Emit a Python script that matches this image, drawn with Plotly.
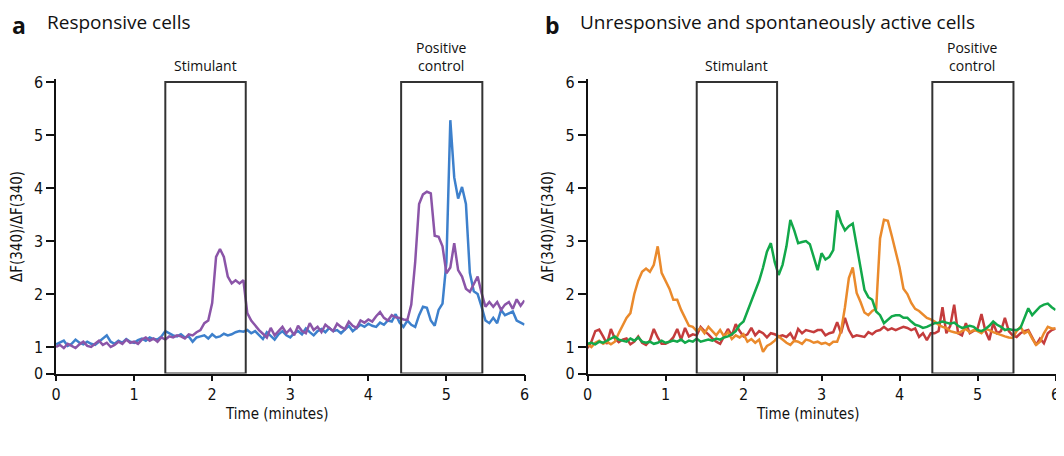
import plotly.graph_objects as go

# sampling grid: one frame every 0.05 min, 0 to 6 min
time = [round(i * 0.05, 2) for i in range(121)]

# panel a: responsive cells
resp_blue = [
    1.05, 1.08, 1.12, 1.02, 1.06, 1.14, 1.08, 1.05, 1.10, 1.06,
    1.04, 1.10, 1.16, 1.22, 1.10, 1.06, 1.12, 1.08, 1.15, 1.10,
    1.08, 1.13, 1.16, 1.12, 1.18, 1.15, 1.14, 1.20, 1.30, 1.26,
    1.22, 1.20, 1.24, 1.18, 1.20, 1.10, 1.18, 1.20, 1.22, 1.16,
    1.24, 1.18, 1.20, 1.25, 1.22, 1.24, 1.28, 1.30, 1.29, 1.32,
    1.26, 1.30, 1.22, 1.15, 1.28, 1.20, 1.14, 1.24, 1.30, 1.22,
    1.18, 1.26, 1.30, 1.24, 1.35, 1.28, 1.22, 1.30, 1.34, 1.28,
    1.36, 1.30, 1.32, 1.26, 1.34, 1.40, 1.30, 1.36, 1.42, 1.38,
    1.44, 1.40, 1.38, 1.46, 1.42, 1.50, 1.48, 1.62, 1.46, 1.38,
    1.50, 1.42, 1.38, 1.60, 1.76, 1.74, 1.50, 1.40, 1.70, 1.82,
    2.60, 5.28, 4.20, 3.80, 4.02, 3.70, 2.40, 2.05, 2.00, 1.76,
    1.50, 1.45, 1.55, 1.45, 1.70, 1.60, 1.64, 1.67, 1.50, 1.46,
    1.42,
]
resp_purple = [
    1.00, 1.04, 0.98, 1.06, 1.02, 0.98, 1.05, 1.10, 1.02, 1.00,
    1.06, 1.12, 1.04, 1.08, 1.00, 1.04, 1.10, 1.06, 1.14, 1.08,
    1.10, 1.06, 1.14, 1.18, 1.12, 1.16, 1.10, 1.18, 1.14, 1.20,
    1.18, 1.22, 1.20, 1.16, 1.24, 1.22, 1.28, 1.32, 1.45, 1.50,
    1.83, 2.70, 2.85, 2.70, 2.33, 2.20, 2.26, 2.20, 2.26, 1.64,
    1.50, 1.40, 1.32, 1.25, 1.18, 1.36, 1.22, 1.30, 1.38, 1.26,
    1.34, 1.22, 1.40, 1.30, 1.26, 1.45, 1.32, 1.38, 1.28, 1.42,
    1.36, 1.30, 1.44, 1.38, 1.34, 1.48, 1.40, 1.36, 1.50, 1.46,
    1.52, 1.48, 1.58, 1.66, 1.55, 1.50, 1.60, 1.56, 1.55, 1.52,
    1.51, 1.80, 2.60, 3.70, 3.88, 3.93, 3.90, 3.10, 3.08, 2.90,
    2.39, 2.50, 2.96, 2.45, 2.33, 2.10, 2.04, 2.20, 2.33, 2.02,
    1.76, 1.85, 1.76, 1.85, 1.70, 1.80, 1.85, 1.72, 1.90, 1.78,
    1.88,
]

# panel b: unresponsive and spontaneously active cells
spont_orange = [
    1.05, 1.00, 1.08, 1.12, 1.06, 1.10, 1.05, 1.10, 1.26, 1.40,
    1.55, 1.64, 2.00, 2.25, 2.42, 2.48, 2.42, 2.55, 2.90, 2.40,
    2.26, 2.10, 1.89, 1.89, 1.70, 1.55, 1.40, 1.38, 1.30, 1.36,
    1.26, 1.38, 1.30, 1.22, 1.32, 1.20, 1.28, 1.15, 1.22, 1.18,
    1.24, 1.10, 1.15, 1.08, 1.14, 0.91, 1.02, 1.06, 1.12, 1.20,
    1.14, 1.08, 1.04, 1.12, 1.10, 1.06, 1.14, 1.12, 1.08, 1.10,
    1.06, 1.08, 1.04, 1.10, 1.10, 1.30, 1.75, 2.30, 2.50, 2.02,
    1.85, 1.65, 1.60, 1.68, 1.72, 3.05, 3.40, 3.38, 3.10, 2.80,
    2.50, 2.10, 2.00, 1.83, 1.72, 1.68, 1.62, 1.55, 1.52, 1.48,
    1.42, 1.38, 1.36, 1.30, 1.28, 1.26, 1.30, 1.34, 1.28, 1.32,
    1.30, 1.26, 1.34, 1.32, 1.28, 1.25, 1.22, 1.20, 1.18, 1.17,
    1.30, 1.38, 1.26, 1.30, 1.16, 1.04, 1.10, 1.26, 1.38, 1.35,
    1.35,
]
spont_green = [
    1.06, 1.08, 1.05, 1.10, 1.08, 1.12, 1.16, 1.20, 1.14, 1.12,
    1.10, 1.16, 1.12, 1.18, 1.10, 1.08, 1.10, 1.06, 1.08, 1.12,
    1.08, 1.10, 1.12, 1.10, 1.14, 1.08, 1.12, 1.10, 1.16, 1.10,
    1.12, 1.14, 1.12, 1.16, 1.14, 1.18, 1.20, 1.24, 1.30, 1.42,
    1.48, 1.68, 1.89, 2.05, 2.25, 2.50, 2.80, 2.96, 2.60, 2.36,
    2.55, 2.90, 3.40, 3.20, 2.96, 2.98, 3.00, 2.94, 2.70, 2.45,
    2.77, 2.65, 2.70, 2.83, 3.58, 3.35, 3.20, 3.28, 3.33, 2.90,
    2.45, 2.08, 1.94, 1.89, 1.67, 1.60, 1.45, 1.52, 1.58, 1.60,
    1.60, 1.55, 1.55, 1.48, 1.42, 1.40, 1.36, 1.38, 1.42, 1.45,
    1.46, 1.48, 1.46, 1.44, 1.46, 1.40, 1.36, 1.38, 1.40, 1.38,
    1.32, 1.30, 1.34, 1.40, 1.48, 1.42, 1.38, 1.32, 1.34, 1.32,
    1.32, 1.36, 1.55, 1.73, 1.60, 1.68, 1.76, 1.80, 1.82, 1.75,
    1.70,
]
spont_red = [
    0.98, 1.10, 1.30, 1.33, 1.20, 1.06, 1.34, 1.16, 1.09, 1.14,
    1.16, 1.05, 1.10, 1.20, 1.08, 1.04, 1.12, 1.34, 1.18, 1.06,
    1.06, 1.10, 1.18, 1.34, 1.14, 1.36, 1.20, 1.24, 1.22, 1.38,
    1.30, 1.24, 1.16, 1.10, 1.06, 1.20, 1.34, 1.22, 1.43, 1.30,
    1.20, 1.24, 1.36, 1.22, 1.30, 1.26, 1.18, 1.26, 1.24, 1.20,
    1.22, 1.19, 1.26, 1.13, 1.34, 1.26, 1.32, 1.30, 1.28, 1.32,
    1.32, 1.22, 1.26, 1.28, 1.47, 1.26, 1.55, 1.32, 1.19, 1.22,
    1.20, 1.19, 1.28, 1.24, 1.30, 1.32, 1.38, 1.32, 1.35, 1.32,
    1.35, 1.38, 1.36, 1.32, 1.35, 1.19, 1.26, 1.13, 1.26, 1.26,
    1.30, 1.75, 1.26, 1.40, 1.80, 1.26, 1.22, 1.45, 1.26, 1.30,
    1.35, 1.62, 1.30, 1.13, 1.45, 1.26, 1.30, 1.55, 1.30, 1.22,
    1.19, 1.26, 1.30, 1.32, 1.19, 1.04, 1.16, 1.07, 1.26, 1.32,
    1.35,
]

stimulant = (1.40, 2.43)
positive_control = (4.42, 5.46)
y_tickvals = [0.5, 1, 2, 3, 4, 5, 6]
y_ticktext = ["0", "1", "2", "3", "4", "5", "6"]
x_tickvals = [0, 1, 2, 3, 4, 5, 6]

# page body adds an 8px margin, so the figure is 8px smaller and shifted
OFF = 8
W, H = 1064 - OFF, 456 - OFF
BLUE, PURPLE = "#3d80cc", "#8b55a8"
ORANGE, GREEN, RED = "#ea8a2c", "#12a84a", "#c43c3c"
NARROW = "Liberation Sans Narrow, DejaVu Sans Condensed, sans-serif"
TICKFONT = dict(family=NARROW, size=16, color="#111")
TITLEFONT = dict(family=NARROW, size=15, color="#111")


def px_x(p):
    return (p - OFF) / W


def px_y(p):
    return 1 - (p - OFF) / H


fig = go.Figure()
for y, c in [(resp_blue, BLUE), (resp_purple, PURPLE)]:
    fig.add_trace(go.Scatter(x=time, y=y, mode="lines", line=dict(color=c, width=2.5),
                             xaxis="x", yaxis="y", showlegend=False))
for y, c in [(spont_red, RED), (spont_orange, ORANGE), (spont_green, GREEN)]:
    fig.add_trace(go.Scatter(x=time, y=y, mode="lines", line=dict(color=c, width=2.5),
                             xaxis="x2", yaxis="y2", showlegend=False))

y_dom = [px_y(373.5), px_y(79.4)]
axis_common = dict(showgrid=False, zeroline=False, showline=True, linecolor="#111", linewidth=1.5,
                   ticks="outside", tickcolor="#111", tickwidth=1.5, tickfont=TICKFONT,
                   automargin=False)

fig.update_layout(
    width=W, height=H, margin=dict(l=0, r=0, t=0, b=0),
    plot_bgcolor="white", paper_bgcolor="white",
    xaxis=dict(domain=[px_x(56), px_x(524.5)], range=[0, 6], tickvals=x_tickvals, ticklen=6,
               anchor="y", **axis_common),
    yaxis=dict(domain=y_dom, range=[y_tickvals[0], 6.05], tickvals=y_tickvals, ticktext=y_ticktext,
               ticklen=8, title=dict(text="ΔF(340)/ΔF(340)", font=TITLEFONT, standoff=8),
               anchor="x", **axis_common),
    xaxis2=dict(domain=[px_x(587.5), px_x(1055.6)], range=[0, 6], tickvals=x_tickvals, ticklen=6,
                anchor="y2", **axis_common),
    yaxis2=dict(domain=y_dom, range=[y_tickvals[0], 6.05], tickvals=y_tickvals, ticktext=y_ticktext,
                ticklen=8, title=dict(text="ΔF(340)/ΔF(340)", font=TITLEFONT, standoff=8),
                anchor="x2", **axis_common),
)

# stimulus windows
for xr, yr in [("x", "y"), ("x2", "y2")]:
    for x0, x1 in (stimulant, positive_control):
        fig.add_shape(type="rect", xref=xr, yref=yr, x0=x0, x1=x1, y0=y_tickvals[0], y1=6,
                      line=dict(color="#333", width=2), fillcolor="rgba(0,0,0,0)", layer="above")
    fig.add_annotation(xref=xr, yref=yr, x=sum(stimulant) / 2, y=6, yanchor="bottom", yshift=5,
                       text="Stimulant", showarrow=False,
                       font=dict(family="Open Sans, sans-serif", size=14, color="#111"))
    fig.add_annotation(xref=xr, yref=yr, x=sum(positive_control) / 2, y=6, yanchor="bottom", yshift=5,
                       text="Positive<br>control", showarrow=False,
                       font=dict(family="Open Sans, sans-serif", size=14, color="#111"))
    fig.add_annotation(xref=xr + " domain", yref=yr + " domain", x=0.47, y=0, yanchor="top", yshift=-29,
                       text="Time (minutes)", showarrow=False, font=TITLEFONT)

# panel headings, pinned to the top edge so their boxes stay inside the figure
for p, letter, heading in [(11, "a", "Responsive cells"), (544, "b", "Unresponsive and spontaneously active cells")]:
    fig.add_annotation(xref="paper", yref="paper", x=px_x(p), y=1, xanchor="left", yanchor="top",
                       text=f"<b>{letter}</b>", showarrow=False, borderpad=0,
                       font=dict(family="Open Sans, sans-serif", size=23, color="#111"))
    fig.add_annotation(xref="paper", yref="paper", x=px_x(p + 35), y=1, xanchor="left", yanchor="top",
                       yshift=0, text=heading, showarrow=False, borderpad=0,
                       font=dict(family="Open Sans, sans-serif", size=19, color="#111"))

fig.write_html("out.html")
